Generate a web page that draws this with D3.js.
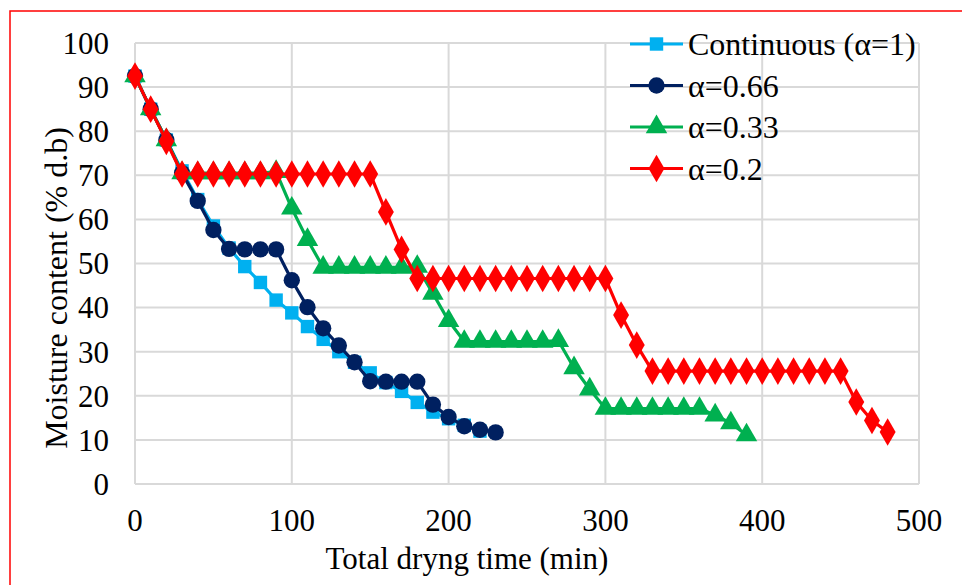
<!DOCTYPE html>
<html>
<head>
<meta charset="utf-8">
<script src="https://cdn.jsdelivr.net/npm/d3@7"></script>
<style>
  body { margin: 0; background: #fff; }
</style>
</head>
<body>
<div id="chart"></div>
<script>
// drying time in minutes (10 min steps)
var timeCont = d3.range(0, 230, 10);   // 0..220
var time066 = d3.range(0, 240, 10);    // 0..230
var time033 = d3.range(0, 400, 10);    // 0..390
var time02 = d3.range(0, 490, 10);     // 0..480

var moistCont = [92.5, 85, 78, 71, 64.5, 58.5, 53.5, 49.3, 45.7, 41.7, 38.8, 35.7, 32.8, 30, 27.6, 25.2, 23, 21, 18.5, 16.3, 14.8, 13.3, 12];
var moist066 = [92.5, 85, 78, 70.5, 64.2, 57.6, 53.3, 53.2, 53.2, 53.2, 46.2, 40.1, 35.3, 31.4, 27.6, 23.3, 23.2, 23.2, 23.2, 18, 15.2, 13.1, 12.3, 11.7];
var moist033 = [92.5, 85, 78, 70.5, 70.5, 70.5, 70.5, 70.5, 70.5, 70.8, 62.5, 55.4, 49.1, 49.1, 49.1, 49.1, 49.1, 49.1, 49.3, 43.2, 37, 32.3, 32.3, 32.3, 32.3, 32.3, 32.3, 32.5, 26.3, 21.5, 17.1, 17.1, 17.1, 17.1, 17.1, 17.1, 17.1, 15.6, 13.8, 11.1];
var moist02 = [92.5, 85, 77.7, 70.3, 70.3, 70.3, 70.3, 70.3, 70.3, 70.3, 70.3, 70.3, 70.3, 70.3, 70.3, 70.3, 61.7, 53.2, 46.6, 46.6, 46.6, 46.6, 46.6, 46.6, 46.6, 46.6, 46.6, 46.6, 46.6, 46.6, 46.6, 38.3, 31.5, 25.6, 25.6, 25.6, 25.6, 25.6, 25.6, 25.6, 25.6, 25.6, 25.6, 25.6, 25.6, 25.6, 18.6, 14.4, 11.8];

var seriesNames = ["Continuous (\u03b1=1)", "\u03b1=0.66", "\u03b1=0.33", "\u03b1=0.2"];
var xTicks = [0, 100, 200, 300, 400, 500];
var yTicks = [0, 10, 20, 30, 40, 50, 60, 70, 80, 90, 100];

var colors = ["#00b0f0", "#002060", "#00b050", "#ff0000"];
var symbols = [d3.symbolSquare, d3.symbolCircle, d3.symbolTriangle, d3.symbolDiamond];
var symSizes = [180, 210, 200, 220];

var W = 962, H = 585;
var margin = {left: 135, top: 43, right: 43, bottom: 101};
var serif = "'Liberation Serif', 'DejaVu Serif', serif";

var svg = d3.select("#chart").append("svg")
  .attr("width", W).attr("height", H)
  .attr("font-family", serif);

// red frame round the figure
svg.append("rect")
  .attr("x", 10).attr("y", 11)
  .attr("width", W + 20).attr("height", H + 20)
  .attr("fill", "none").attr("stroke", "#ff0000").attr("stroke-width", 1.5);

var x = d3.scaleLinear().domain([0, 500]).range([margin.left, W - margin.right]);
var y = d3.scaleLinear().domain([0, 100]).range([H - margin.bottom, margin.top]);

// grid
svg.append("g").selectAll("line").data(yTicks).enter().append("line")
  .attr("x1", x(0)).attr("x2", x(500))
  .attr("y1", function(d){ return y(d); }).attr("y2", function(d){ return y(d); })
  .attr("stroke", "#d9d9d9").attr("stroke-width", 2);
svg.append("g").selectAll("line").data(xTicks).enter().append("line")
  .attr("y1", y(0)).attr("y2", y(100))
  .attr("x1", function(d){ return x(d); }).attr("x2", function(d){ return x(d); })
  .attr("stroke", "#d9d9d9").attr("stroke-width", 2);

// tick labels
svg.append("g").selectAll("text").data(yTicks).enter().append("text")
  .attr("x", 109).attr("y", function(d){ return y(d); })
  .attr("dy", "0.35em").attr("text-anchor", "end")
  .attr("font-family", serif).attr("font-size", 31)
  .text(function(d){ return d; });
svg.append("g").selectAll("text").data(xTicks).enter().append("text")
  .attr("x", function(d){ return x(d); }).attr("y", 531)
  .attr("text-anchor", "middle")
  .attr("font-family", serif).attr("font-size", 31)
  .text(function(d){ return d; });

// axis titles
svg.append("text")
  .attr("x", 467).attr("y", 569)
  .attr("text-anchor", "middle")
  .attr("font-family", serif).attr("font-size", 31)
  .text("Total dryng time (min)");
svg.append("text")
  .attr("transform", "translate(67,288) rotate(-90)")
  .attr("text-anchor", "middle")
  .attr("font-family", serif).attr("font-size", 32)
  .text("Moisture content (% d.b)");

var allSeries = [
  {t: timeCont, v: moistCont},
  {t: time066, v: moist066},
  {t: time033, v: moist033},
  {t: time02, v: moist02}
];

var line = d3.line()
  .x(function(d){ return x(d[0]); })
  .y(function(d){ return y(d[1]); });

allSeries.forEach(function(s, k) {
  var pts = s.t.map(function(t, i){ return [t, s.v[i]]; });
  svg.append("path")
    .datum(pts)
    .attr("d", line)
    .attr("fill", "none")
    .attr("stroke", colors[k])
    .attr("stroke-width", 3.2)
    .attr("stroke-linejoin", "round");
  svg.append("g").selectAll("path").data(pts).enter().append("path")
    .attr("transform", function(d){ return "translate(" + x(d[0]) + "," + y(d[1]) + ")"; })
    .attr("d", d3.symbol().type(symbols[k]).size(symSizes[k]))
    .attr("fill", colors[k]);
});

// legend
var legend = svg.append("g");
seriesNames.forEach(function(name, k) {
  var ly = 44 + k * 41.5;
  legend.append("line")
    .attr("x1", 630).attr("x2", 683).attr("y1", ly).attr("y2", ly)
    .attr("stroke", colors[k]).attr("stroke-width", 3.2);
  legend.append("path")
    .attr("transform", "translate(656.5," + ly + ")")
    .attr("d", d3.symbol().type(symbols[k]).size(symSizes[k]))
    .attr("fill", colors[k]);
  legend.append("text")
    .attr("x", 688).attr("y", ly).attr("dy", "0.35em")
    .attr("font-family", serif).attr("font-size", 32)
    .text(name);
});
</script>
</body>
</html>
